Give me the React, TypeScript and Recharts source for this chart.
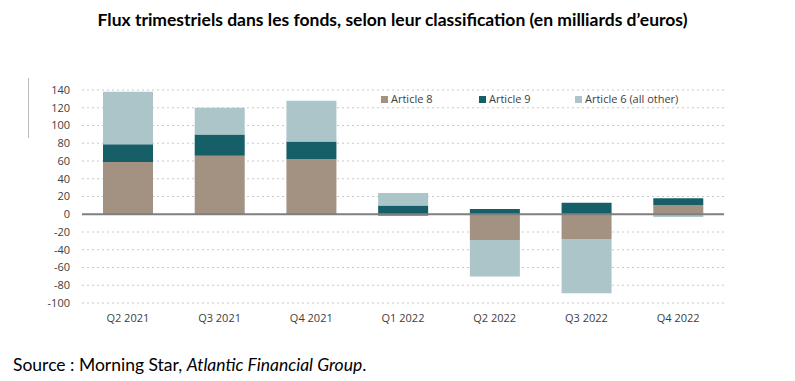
import React from "react";
import { BarChart, Bar, XAxis, YAxis, CartesianGrid, ReferenceLine } from "recharts";

const categories = ["Q2 2021", "Q3 2021", "Q4 2021", "Q1 2022", "Q2 2022", "Q3 2022", "Q4 2022"];
const article8 = [59, 66, 62, -2, -29, -28, 10.5];
const article9 = [20, 24, 20, 10, 6, 13, 7.5];
const article6 = [59, 30, 46, 14, -41, -61, -3];
const yTicks = [-100, -80, -60, -40, -20, 0, 20, 40, 60, 80, 100, 120, 140];

const seriesNames = ["Article 8", "Article 9", "Article 6 (all other)"];
const colors = ["#a39181", "#175f68", "#abc5c9"];

const data = categories.map((c, i) => ({
  name: c,
  a8: article8[i],
  a9: article9[i],
  a6: article6[i],
}));

const itemWidths = [98, 96, 130];

function LegendBox() {
  return (
    <div
      style={{
        position: "absolute",
        left: 381,
        top: 91,
        display: "flex",
        fontFamily: "'Open Sans', sans-serif",
        fontSize: 11,
        lineHeight: "16px",
        color: "#404040",
        whiteSpace: "nowrap",
      }}
    >
      {seriesNames.map((n, i) => (
        <div key={i} style={{ display: "flex", alignItems: "center", width: itemWidths[i] }}>
          <span style={{ display: "inline-block", width: 7, height: 7, background: colors[i], marginRight: 3 }} />
          <span>{n}</span>
        </div>
      ))}
    </div>
  );
}

export default function App() {
  return (
    <div style={{ position: "absolute", left: 0, top: 0, width: 795, height: 381, background: "#fff" }}>
      <div
        style={{
          position: "absolute",
          left: 0,
          width: 785,
          top: 9,
          textAlign: "center",
          fontFamily: "Lato, sans-serif",
          fontWeight: 700,
          fontSize: 17.5,
          lineHeight: "21px",
          color: "#000",
          whiteSpace: "nowrap",
        }}
      >
        Flux trimestriels dans les fonds, selon leur classification (en milliards d’euros)
      </div>
      <div style={{ position: "absolute", left: 28, top: 78, width: 1, height: 60, background: "#bbbbbb" }} />
      <div style={{ position: "absolute", left: 0, top: 0 }}>
        <BarChart
          width={795}
          height={381}
          data={data}
          stackOffset="sign"
          margin={{ top: 90, right: 71, bottom: 48, left: 22 }}
        >
          <CartesianGrid vertical={false} stroke="#c9c9c9" strokeDasharray="2 3" />
          <XAxis
            dataKey="name"
            axisLine={false}
            tickLine={false}
            height={30}
            tickMargin={5}
            tick={{ fill: "#404040", fontSize: 11, fontFamily: "'Open Sans', sans-serif" }}
          />
          <YAxis
            domain={[-100, 140]}
            ticks={yTicks}
            axisLine={false}
            tickLine={false}
            width={60}
            tickMargin={6}
            interval={0}
            tick={{ fill: "#404040", fontSize: 11, fontFamily: "'Open Sans', sans-serif" }}
          />
          <Bar dataKey="a8" name={seriesNames[0]} stackId="s" fill={colors[0]} barSize={50} isAnimationActive={false} />
          <Bar dataKey="a9" name={seriesNames[1]} stackId="s" fill={colors[1]} barSize={50} isAnimationActive={false} />
          <Bar dataKey="a6" name={seriesNames[2]} stackId="s" fill={colors[2]} barSize={50} isAnimationActive={false} />
          <ReferenceLine y={0} stroke="#7f7f7f" strokeWidth={2} />
        </BarChart>
      </div>
      <LegendBox />
      <div
        style={{
          position: "absolute",
          left: 13,
          top: 354,
          fontFamily: "Lato, sans-serif",
          fontSize: 17.5,
          lineHeight: "21px",
          color: "#000",
          whiteSpace: "nowrap",
        }}
      >
        Source : Morning Star, <i>Atlantic Financial Group</i>.
      </div>
    </div>
  );
}
